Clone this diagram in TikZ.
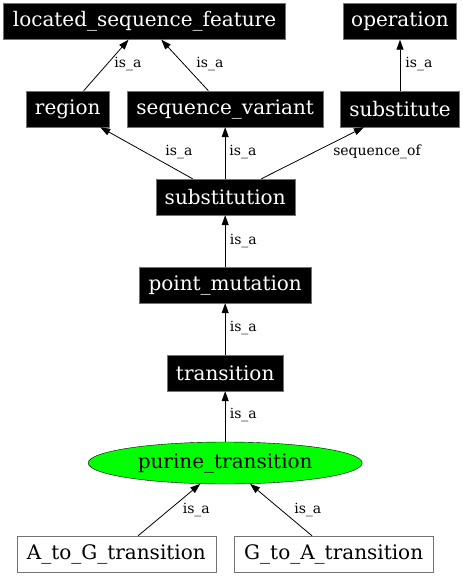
\documentclass[tikz,border=0pt]{standalone}
\usepackage{fontspec}
\setmainfont{DejaVu Serif}
\usetikzlibrary{arrows.meta,shapes.geometric}
\definecolor{boxgray}{rgb}{0.45,0.45,0.45}
\definecolor{puregreen}{rgb}{0,1,0}

\begin{document}
\begin{tikzpicture}[x=1pt,y=-1pt,
    term/.style={rectangle,fill=black,draw=boxgray,text=white,minimum height=36pt,inner xsep=4pt,inner ysep=0pt,font=\fontsize{20}{24}\selectfont},
    leaf/.style={term,fill=white,text=black},
    hub/.style={ellipse,fill=puregreen,draw=black,minimum width=274pt,minimum height=42pt,inner sep=0pt,font=\fontsize{20}{24}\selectfont},
    rel/.style={inner sep=0pt,font=\fontsize{14}{16}\selectfont}]
  \useasboundingbox (0,0) rectangle (463,576);

  \node[term,minimum width=282pt] (lsf) at (144.5,21.5) {located\_sequence\_feature};
  \node[term,minimum width=113pt] (operation) at (400,21.5) {operation};

  \node[term,minimum width=83pt] (region) at (67.7,109) {region};
  \node[term,minimum width=196pt] (seqvar) at (225.2,109) {sequence\_variant};
  \node[term,minimum width=119pt] (substitute) at (400,109) {substitute};

  \node[term,minimum width=139pt] (substitution) at (225.2,197) {substitution};
  \node[term,minimum width=172pt] (pointmut) at (225.2,285) {point\_mutation};
  \node[term,minimum width=116pt] (transition) at (225.2,373) {transition};

  \node[hub] (purine) at (225.2,463) {purine\_transition};

  \node[leaf,minimum width=199pt] (AtoG) at (116.3,554) {A\_to\_G\_transition};
  \node[leaf,minimum width=199pt] (GtoA) at (333.7,554) {G\_to\_A\_transition};

  \begin{scope}[line width=0.8pt,>={Triangle[length=10pt,width=7pt]}]
      % is_a:
      \draw (region) edge[->] (lsf);
      \draw (seqvar) edge[->] (lsf);
      \draw (substitute) edge[->] (operation);
      \draw (substitution) edge[->] (region);
      \draw (substitution) edge[->] (seqvar);
      \draw (pointmut) edge[->] (substitution);
      \draw (transition) edge[->] (pointmut);
      \draw (purine) edge[->] (transition);
      \draw (AtoG) edge[->] (purine);
      \draw (GtoA) edge[->] (purine);
      % sequence_of:
      \draw (substitution) edge[->] (substitute);
  \end{scope}

  \node[rel] (isaRegion) at (128,64) {is\_a};
  \node[rel] (isaSeqvar) at (210,64) {is\_a};
  \node[rel] (isaSubstitute) at (419,64) {is\_a};
  \node[rel] (isaToRegion) at (179,152) {is\_a};
  \node[rel] (isaToSeqvar) at (243,152) {is\_a};
  \node[rel] (seqOf) at (377,152) {sequence\_of};
  \node[rel] (isaPointmut) at (243.3,240.5) {is\_a};
  \node[rel] (isaTransition) at (243.3,328.3) {is\_a};
  \node[rel] (isaPurine) at (243.3,415) {is\_a};
  \node[rel] (isaAtoG) at (196.3,510) {is\_a};
  \node[rel] (isaGtoA) at (307.8,510) {is\_a};
\end{tikzpicture}
\end{document}
